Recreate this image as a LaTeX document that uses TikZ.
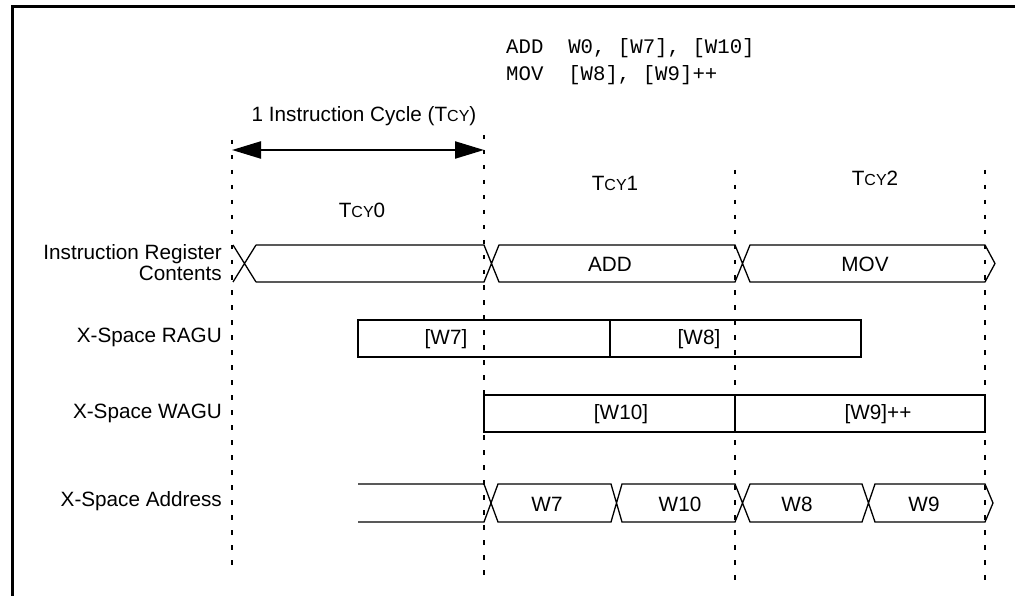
\documentclass[tikz,border=0pt]{standalone}
\usepackage{fontspec}
\setmainfont{Liberation Sans}
\setmonofont{Liberation Mono}
\usetikzlibrary{arrows.meta}
\newcommand{\tcy}{T{\fontsize{16}{16}\selectfont CY}}
\begin{document}
\begin{tikzpicture}[x=1pt,y=-1pt,
  font=\fontsize{20.7}{21}\selectfont,
  gridline/.style={line width=2.3pt, dash pattern=on 4.5pt off 10.5pt},
  bus/.style={line width=1.3pt, line join=miter},
  boxline/.style={line width=2pt},
  lbl/.style={anchor=east, inner sep=0pt, align=right},
  txt/.style={inner sep=0pt},
  code/.style={anchor=west, inner sep=0pt, font=\ttfamily\fontsize{20.7}{24}\selectfont},
  span/.style={line width=2.2pt, {Triangle[length=29pt,width=17pt]}-{Triangle[length=29pt,width=17pt]}}]
\useasboundingbox (0,0) rectangle (1015,596);
% frame
\coordinate (fb) at (12.5,600);
\coordinate (fc) at (12.5,7);
\coordinate (fr) at (1020,7);
\draw[line width=3pt] (fb) -- (fc) -- (fr);
% code
\node[code] (c1) at (506,48) {ADD\ \ W0,\ [W7],\ [W10]};
\node[code] (c2) at (506,75) {MOV\ \ [W8],\ [W9]++};
% cycle grid lines
\coordinate (g0t) at (232,140); \coordinate (g0b) at (232,568);
\coordinate (g1t) at (484,135); \coordinate (g1b) at (484,578);
\coordinate (g2t) at (735,170); \coordinate (g2b) at (735,583);
\coordinate (g3t) at (985,170); \coordinate (g3b) at (985,583);
\draw[gridline] (g0t) -- (g0b);
\draw[gridline] (g1t) -- (g1b);
\draw[gridline] (g2t) -- (g2b);
\draw[gridline] (g3t) -- (g3b);
% instruction cycle arrow
\coordinate (a0) at (232,150);
\coordinate (a1) at (484,150);
\draw[span] (a0) -- (a1);
\node[txt] (cyc) at (364,116) {1 Instruction Cycle (\tcy)};
\node[txt] (t0) at (362,210) {\tcy0};
\node[txt] (t1) at (615,183) {\tcy1};
\node[txt] (t2) at (875,178) {\tcy2};
% row labels
\node[lbl] (lir) at (222,263) {Instruction Register\\Contents};
\node[lbl] (lr) at (222,337) {X-Space RAGU};
\node[lbl] (lw) at (222,413) {X-Space WAGU};
\node[lbl] (la) at (222,501) {X-Space Address};
% instruction register bus
\draw[bus] (233,245) -- (256,282) (233,282) -- (256,245);
\draw[bus] (256,245) -- (484,245) -- (499,282) -- (735,282) -- (750,245) -- (985,245)
  -- (995,263.5) -- (985,282) -- (750,282) -- (735,245) -- (499,245) -- (484,282) -- (256,282);
\node[txt] (add) at (610,264) {ADD};
\node[txt] (mov) at (865,264) {MOV};
% RAGU
\draw[boxline] (358,320) rectangle (861,357);
\draw[boxline] (610,320) -- (610,357);
\node[txt] (r1) at (446,339) {[W7]};
\node[txt] (r2) at (699,339) {[W8]};
% WAGU
\draw[boxline] (484,395) rectangle (985,432);
\draw[boxline] (735,395) -- (735,432);
\node[txt] (w1) at (621,414) {[W10]};
\node[txt] (w2) at (878,414) {[W9]++};
% address bus
\draw[bus] (358,484) -- (484,484) -- (498,522) -- (611,522) -- (622,484) -- (735,484) -- (750,522)
  -- (862,522) -- (875,484) -- (985,484) -- (993,503) -- (985,522) -- (875,522) -- (862,484)
  -- (750,484) -- (735,522) -- (622,522) -- (611,484) -- (498,484) -- (484,522) -- (358,522);
\node[txt] (x1) at (547,504) {W7};
\node[txt] (x2) at (680,504) {W10};
\node[txt] (x3) at (797,504) {W8};
\node[txt] (x4) at (924,504) {W9};
\end{tikzpicture}
\end{document}
